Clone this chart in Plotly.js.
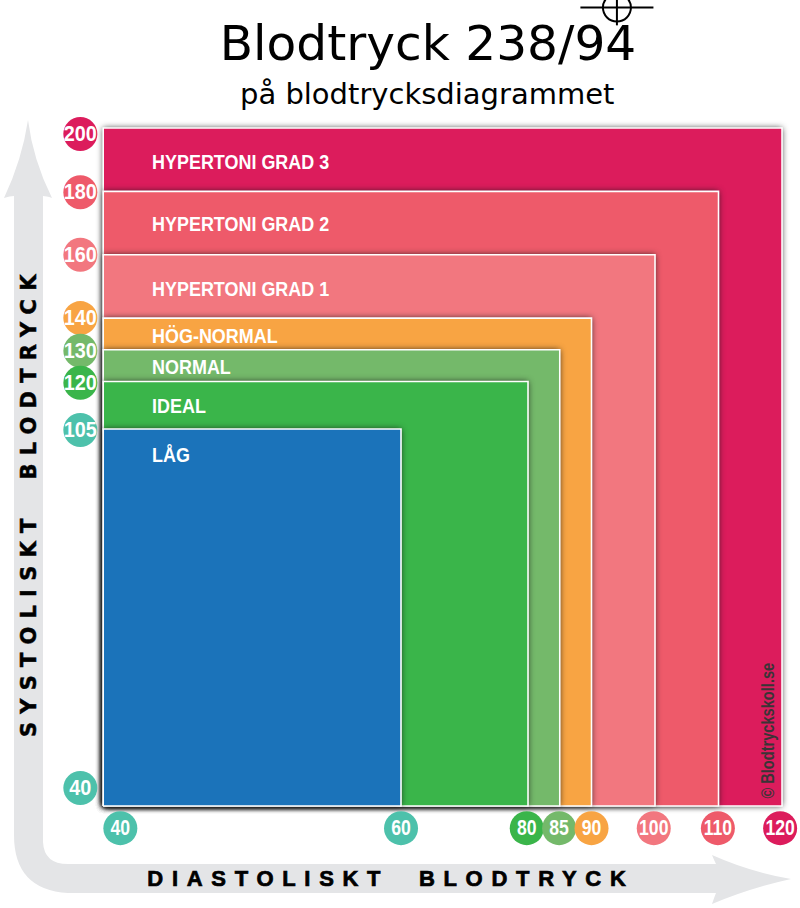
<!DOCTYPE html>
<html><head><meta charset="utf-8">
<script src="https://cdn.plot.ly/plotly-3.0.1.min.js"></script>
<style>
html,body{margin:0;padding:0;background:#fff}
#chart{width:800px;height:908px}
.scatterlayer .trace .js-fill{filter:drop-shadow(0 0 3px rgba(20,20,20,.85))}
.annotation[data-index="1"] text{letter-spacing:8.2px;stroke:#000;stroke-width:.5px}
.annotation[data-index="2"] text{letter-spacing:8.7px;stroke:#000;stroke-width:.7px}
.annotation[data-index="3"] text{transform-box:fill-box;transform-origin:center;transform:scaleX(.77)}
.textpoint text{transform-box:fill-box;transform-origin:center}
.trace:nth-child(8) .textpoint text{transform-origin:left center;transform:scaleX(.855)}
.trace:nth-child(9) .textpoint text{transform:translateY(1.5px) scaleX(.9)}
.trace:nth-child(10) .textpoint text{transform:translateY(1px) scaleX(.8)}
</style></head><body><div id="chart"></div>
<script>
// Zones, outermost first
const zoneNames = ['HYPERTONI GRAD 3','HYPERTONI GRAD 2','HYPERTONI GRAD 1','HÖG-NORMAL','NORMAL','IDEAL','LÅG'];
const zoneDiastolic = [120,110,100,90,85,80,60];
const zoneSystolic = [200,180,160,140,130,120,105];
const zoneColors = ['#dc1c5c','#ee5a6a','#f2777f','#f8a443','#74b96a','#3ab54a','#1b73ba'];
const zoneLabelY = [188.6,169,148.6,133.7,123.9,111.6,96.3];
const zoneLabelX = 20.8;
// The picture's axes are broken below 60 / 105: zones begin at these axis positions
const xFloor = 13.1;
const yFloor = -14;
// Badges
const yBadgeLabels = ['200','180','160','140','130','120','105','40'];
const yBadgePos = [198.1,179.7,160,140,129.7,119.6,104.7,-8.3];
const yBadgeColors = ['#dc1c5c','#ee5a6a','#f2777f','#f8a443','#74b96a','#3ab54a','#4dc1ab','#4dc1ab'];
const yBadgeX = 9.5;
const xBadgeLabels = ['40','60','80','85','90','100','110','120'];
const xBadgePos = [15.8,60,79.8,84.9,90,99.8,109.9,119.7];
const xBadgeColors = ['#4dc1ab','#4dc1ab','#3ab54a','#74b96a','#f8a443','#f2777f','#ee5a6a','#dc1c5c'];
const xBadgeY = -21;
// Reading
const readingDiastolic = 94;
const readingSystolic = 238;

const W = 800, H = 908;
const P = (x,y)=>`${(x/W).toFixed(5)} ${(1-y/H).toFixed(5)}`;
const arrowPath = 'M '+P(28,120)+' Q '+P(33,160)+' '+P(52,198)+' Q '+P(46,196)+' '+P(43,196)+
  ' L '+P(43,842)+' Q '+P(44,864)+' '+P(68,864)+' L '+P(716,864)+' Q '+P(714,860)+' '+P(712,855)+
  ' Q '+P(750,872)+' '+P(791,879)+' Q '+P(750,888)+' '+P(712,904)+' Q '+P(714,898)+' '+P(716,893)+
  ' L '+P(68,893)+' Q '+P(14,890)+' '+P(14,835)+' L '+P(14,196)+' Q '+P(10,196)+' '+P(4,198)+' Q '+P(22,160)+' '+P(28,120)+' Z';

const traces = zoneNames.map((n,i)=>({
  type:'scatter', mode:'lines', name:n, hoverinfo:'name',
  x:[xFloor,zoneDiastolic[i],zoneDiastolic[i],xFloor,xFloor],
  y:[yFloor,yFloor,zoneSystolic[i],zoneSystolic[i],yFloor],
  fill:'toself', fillcolor:zoneColors[i], line:{color:'#ffffff',width:1.6}
}));
const sans = '"Liberation Sans",sans-serif';
traces.push({type:'scatter',mode:'text',x:zoneNames.map(()=>zoneLabelX),y:zoneLabelY,text:zoneNames,
  textposition:'middle right',textfont:{family:sans,size:21,color:'#fff',weight:700},hoverinfo:'skip',cliponaxis:false});
traces.push({type:'scatter',mode:'markers+text',x:yBadgeLabels.map(()=>yBadgeX),y:yBadgePos,text:yBadgeLabels,
  marker:{size:34,color:yBadgeColors},textposition:'middle center',
  textfont:{family:sans,size:22,color:'#fff',weight:700},hoverinfo:'skip',cliponaxis:false});
traces.push({type:'scatter',mode:'markers+text',x:xBadgePos,y:xBadgeLabels.map(()=>xBadgeY),text:xBadgeLabels,
  marker:{size:34,color:xBadgeColors},textposition:'middle center',
  textfont:{family:sans,size:22,color:'#fff',weight:700},hoverinfo:'skip',cliponaxis:false});
traces.push({type:'scatter',mode:'markers',x:[readingDiastolic],y:[readingSystolic],cliponaxis:false,
  marker:{symbol:'circle-open',size:28,color:'#000',line:{color:'#000',width:2}},
  error_x:{type:'constant',value:5.75,width:0,thickness:2,color:'#000'},
  error_y:{type:'constant',value:5.6,width:0,thickness:2,color:'#000'},name:'238/94'});

const layout = {
  width:W,height:H,margin:{l:0,r:0,t:0,b:0},showlegend:false,
  paper_bgcolor:'#fff',plot_bgcolor:'rgba(0,0,0,0)',
  xaxis:{range:[-3.15,122.83],visible:false,fixedrange:true},
  yaxis:{range:[-46.2,240.4],visible:false,fixedrange:true},
  title:{text:'Blodtryck 238/94',x:0.535,xanchor:'center',y:0.953,yanchor:'middle',
    font:{family:'"DejaVu Sans",sans-serif',size:48.6,color:'#000'}},
  shapes:[{type:'path',xref:'paper',yref:'paper',path:arrowPath,fillcolor:'#e4e5e7',line:{width:0},layer:'below'}],
  annotations:[
    {text:'på blodtrycksdiagrammet',xref:'paper',yref:'paper',x:0.534,y:0.896,xanchor:'center',yanchor:'middle',showarrow:false,
     font:{family:'"DejaVu Sans",sans-serif',size:29,color:'#000'}},
    {text:'SYSTOLISKT  BLODTRYCK',xref:'paper',yref:'paper',x:29/W,y:1-502/H,xanchor:'center',yanchor:'middle',textangle:-90,showarrow:false,
     font:{family:'"DejaVu Sans",sans-serif',size:21,color:'#000',weight:700}},
    {text:'DIASTOLISKT  BLODTRYCK',xref:'paper',yref:'paper',x:390.5/W,y:1-878/H,xanchor:'center',yanchor:'middle',showarrow:false,
     font:{family:sans,size:22,color:'#000',weight:700}},
    {text:'© Blodtryckskoll.se',xref:'paper',yref:'paper',x:767/W,y:1-731/H,xanchor:'center',yanchor:'middle',textangle:-90,showarrow:false,
     font:{family:sans,size:19,color:'#3a3436',weight:700}}
  ]
};
Plotly.newPlot('chart',traces,layout,{displayModeBar:false,staticPlot:true});
</script></body></html>
